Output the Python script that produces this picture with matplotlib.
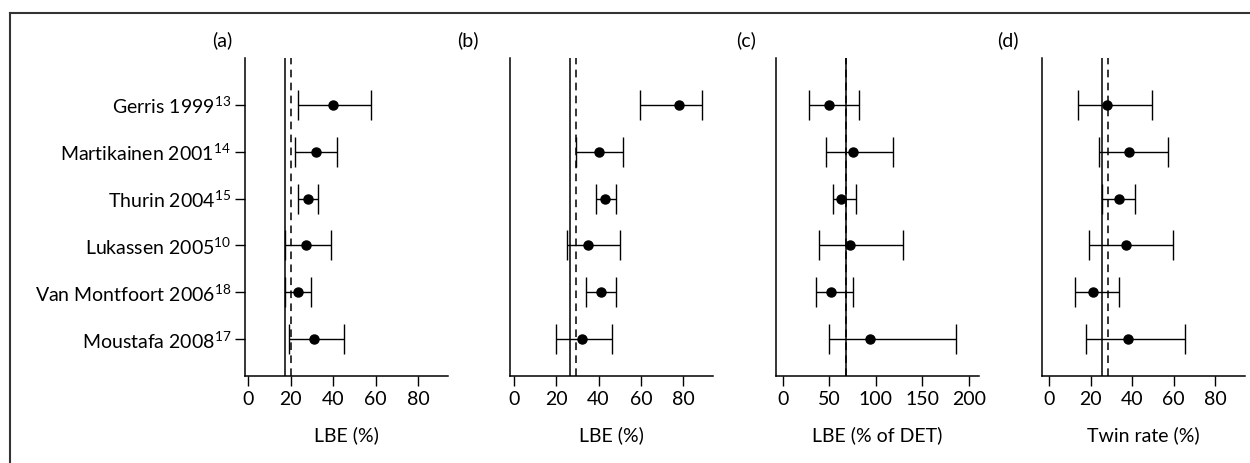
# Forest plots of LBE and twin rate per study, four panels

import numpy as np
import matplotlib.pyplot as plt
from matplotlib.lines import Line2D

plt.rcParams['font.family'] = ['Lato', 'DejaVu Sans']
plt.rcParams['mathtext.fontset'] = 'custom'
plt.rcParams['mathtext.rm'] = 'Lato'

# Studies (top to bottom) and their reference numbers
studies = ['Gerris 1999', 'Martikainen 2001', 'Thurin 2004', 'Lukassen 2005',
           'Van Montfoort 2006', 'Moustafa 2008']
refs = ['13', '14', '15', '10', '18', '17']

# (a) LBE (%)
a_est = [40, 32, 28, 27, 23.5, 31]
a_lo = [23.5, 22, 23.5, 17.5, 17.5, 19]
a_hi = [58, 42, 33, 39, 29.5, 45]
a_solid, a_dash = 17.4, 20.2

# (b) LBE (%)
b_est = [78, 40, 43, 35, 41, 32]
b_lo = [59.5, 29.5, 39, 25, 34, 20]
b_hi = [89, 51.5, 48, 50, 48, 46.5]
b_solid, b_dash = 26.4, 29.4

# (c) LBE (% of DET)
c_est = [50, 75, 63, 72, 52, 94]
c_lo = [28, 46, 54, 39, 35.5, 49.5]
c_hi = [82, 118, 79, 129, 75, 186]
c_solid, c_dash = 67.7, 68.2

# (d) Twin rate (%)
d_est = [27.7, 38.6, 33.5, 37, 21, 38]
d_lo = [14, 24, 25.5, 19, 12.5, 17.5]
d_hi = [49.5, 57.5, 41.5, 59.5, 33.5, 65.5]
d_solid, d_dash = 25.5, 28.4

panels = [
    ('(a)', a_est, a_lo, a_hi, a_solid, a_dash, 'LBE (%)', [0, 20, 40, 60, 80], (-1.5, 94)),
    ('(b)', b_est, b_lo, b_hi, b_solid, b_dash, 'LBE (%)', [0, 20, 40, 60, 80], (-1.8, 94)),
    ('(c)', c_est, c_lo, c_hi, c_solid, c_dash, 'LBE (% of DET)', [0, 50, 100, 150, 200], (-7.5, 211)),
    ('(d)', d_est, d_lo, d_hi, d_solid, d_dash, 'Twin rate (%)', [0, 20, 40, 60, 80], (-3.5, 94.5)),
]

W, H = 1250, 463
fig = plt.figure(figsize=(12.5, 4.63), dpi=100)

# axes boxes in pixels: left, right ; top/bottom shared
lefts = [245, 510, 776, 1042]
rights = [448, 713, 979, 1245]
top_px, bot_px = 58, 376
label_x = [222, 468, 746, 1008]

ypos = np.arange(len(studies), 0, -1)
FS = 14

for i, (tag, est, lo, hi, solid, dash, xlab, ticks, xl) in enumerate(panels):
    ax = fig.add_axes([lefts[i] / W, 1 - bot_px / H,
                       (rights[i] - lefts[i]) / W, (bot_px - top_px) / H])
    est = np.array(est)
    err = [est - np.array(lo), np.array(hi) - est]
    ax.errorbar(est, ypos, xerr=err, fmt='o', color='black', ms=6.5,
                elinewidth=1.0, capsize=11, capthick=1.0)
    ax.axvline(solid, color='black', lw=1.1)
    ax.axvline(dash, color='black', lw=1.1, ls=(0, (5, 3.5)))
    ax.set_xlim(*xl)
    ax.set_ylim(0.21, 7.0)
    ax.set_xticks(ticks)
    ax.set_xlabel(xlab, fontsize=FS, labelpad=13)
    ax.tick_params(axis='x', length=7, width=1.0, labelsize=FS, pad=4)
    for s in ['top', 'right']:
        ax.spines[s].set_visible(False)
    for s in ['left', 'bottom']:
        ax.spines[s].set_linewidth(1.1)
    if i == 0:
        ax.set_yticks(ypos)
        ax.set_yticklabels([s + r'$^{\mathrm{' + r + '}}$' for s, r in zip(studies, refs)])
        ax.tick_params(axis='y', length=7, width=1.0, labelsize=FS, pad=3)
    else:
        ax.set_yticks([])
    fig.text(label_x[i] / W, 1 - 40 / H, tag, ha='center', va='center', fontsize=FS)

# outer frame (only top and left edges visible)
fig.add_artist(Line2D([10 / W, 1], [1 - 13 / H, 1 - 13 / H], color='#333333', lw=1.5))
fig.add_artist(Line2D([10 / W, 10 / W], [0, 1 - 13 / H], color='#333333', lw=1.5))

fig.savefig('out.png', dpi=100)
